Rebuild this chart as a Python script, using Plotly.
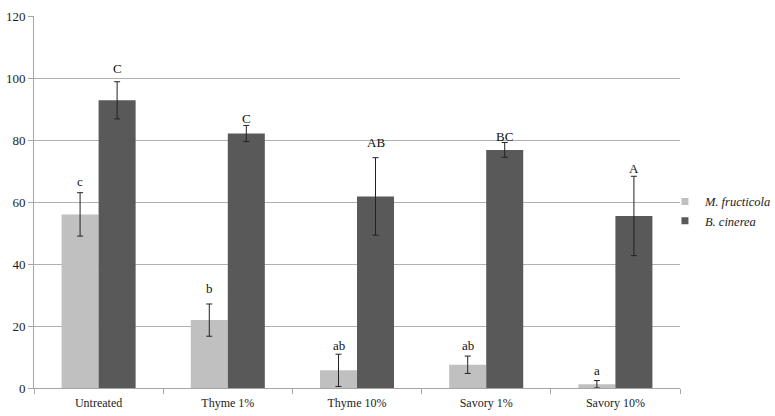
import plotly.graph_objects as go

categories = ["Untreated", "Thyme 1%", "Thyme 10%", "Savory 1%", "Savory 10%"]
m_fructicola = [56.0, 21.9, 5.7, 7.5, 1.2]
m_fructicola_err = [7.0, 5.2, 5.2, 2.8, 1.2]
m_fructicola_letters = ["c", "b", "ab", "ab", "a"]
m_fructicola_label_y = [66.1, 31.3, 13.1, 13.1, 4.9]
b_cinerea = [92.8, 82.1, 61.8, 76.8, 55.5]
b_cinerea_err = [6.0, 2.6, 12.5, 2.4, 12.8]
b_cinerea_letters = ["C", "C", "AB", "BC", "A"]
b_cinerea_label_y = [102.4, 86.2, 78.6, 80.5, 70.3]
series_names = ["<i>M. fructicola</i>", "<i>B. cinerea</i>"]
series_colors = ["#c0c0c0", "#595959"]

FONT = "Liberation Serif"

fig = go.Figure()
fig.add_trace(go.Bar(
    x=categories, y=m_fructicola, name=series_names[0], showlegend=False,
    marker=dict(color=series_colors[0], line=dict(width=0)),
    error_y=dict(type="data", array=m_fructicola_err, visible=True,
                 color="#222222", thickness=1, width=3),
))
fig.add_trace(go.Bar(
    x=categories, y=b_cinerea, name=series_names[1], showlegend=False,
    marker=dict(color=series_colors[1], line=dict(width=0)),
    error_y=dict(type="data", array=b_cinerea_err, visible=True,
                 color="#222222", thickness=1, width=3),
))
# legend entries with small square swatches
for nm, col in zip(series_names, series_colors):
    fig.add_trace(go.Scatter(x=[None], y=[None], mode="markers", name=nm,
                             marker=dict(symbol="square", size=7, color=col)))

annotations = []
for cat, ly, t in zip(categories, m_fructicola_label_y, m_fructicola_letters):
    annotations.append(dict(x=cat, y=ly, text=t, xref="x", yref="y",
                            xshift=-18.5, yshift=2, yanchor="middle", showarrow=False,
                            font=dict(family=FONT, size=13, color="#111111")))
for cat, ly, t in zip(categories, b_cinerea_label_y, b_cinerea_letters):
    annotations.append(dict(x=cat, y=ly, text=t, xref="x", yref="y",
                            xshift=18.5, yshift=2, yanchor="middle", showarrow=False,
                            font=dict(family=FONT, size=13, color="#111111")))

fig.update_layout(
    width=775, height=416,
    margin=dict(l=34, r=95, t=16, b=28, autoexpand=False),
    paper_bgcolor="white", plot_bgcolor="white",
    barmode="group", bargap=0.427, bargroupgap=0,
    font=dict(family=FONT, size=13, color="#222222"),
    showlegend=True,
    legend=dict(xref="container", yref="container", x=0.858, y=0.492,
                xanchor="left", yanchor="middle",
                font=dict(family=FONT, size=12.5, color="#222222"),
                tracegroupgap=0, itemwidth=30, bgcolor="rgba(0,0,0,0)"),
    annotations=annotations,
)
fig.update_xaxes(
    automargin=False,
    showline=True, linecolor="#a6a6a6", linewidth=1,
    ticks="outside", tickson="boundaries", ticklen=5, tickcolor="#a6a6a6",
    tickfont=dict(family=FONT, size=12, color="#222222"),
    ticklabelstandoff=4,
    showgrid=False,
)
fig.update_yaxes(
    automargin=False,
    range=[0, 120], dtick=20,
    showline=True, linecolor="#a6a6a6", linewidth=1,
    ticks="outside", ticklen=5, tickcolor="#a6a6a6",
    showgrid=True, gridcolor="#b0b0b0", gridwidth=1,
    tickfont=dict(family=FONT, size=13, color="#222222"),
    zeroline=False,
)

fig.write_html("out.html", config={"displayModeBar": False},
               post_script="document.body.style.margin='0px';document.body.style.padding='0px';")
